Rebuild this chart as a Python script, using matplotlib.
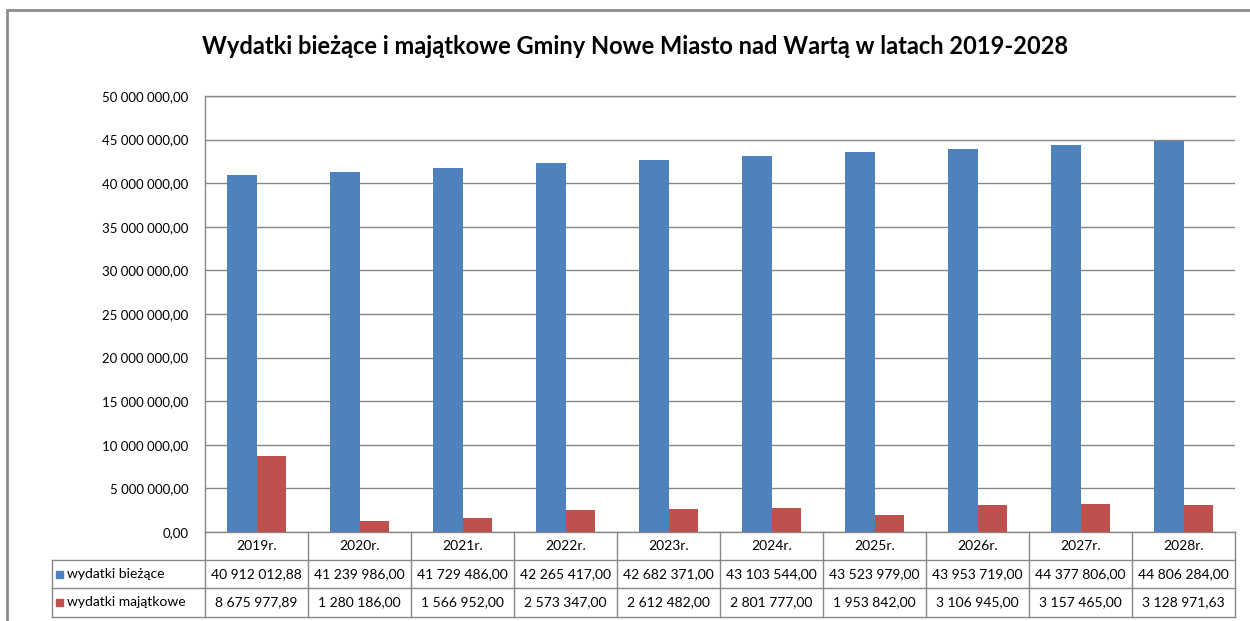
import matplotlib.pyplot as plt
import matplotlib.transforms as mtransforms
from matplotlib.patches import Rectangle
from matplotlib.lines import Line2D
import numpy as np

years = ['2019r.', '2020r.', '2021r.', '2022r.', '2023r.', '2024r.', '2025r.', '2026r.', '2027r.', '2028r.']
biezace = [40912012.88, 41239986.00, 41729486.00, 42265417.00, 42682371.00,
           43103544.00, 43523979.00, 43953719.00, 44377806.00, 44806284.00]
majatkowe = [8675977.89, 1280186.00, 1566952.00, 2573347.00, 2612482.00,
             2801777.00, 1953842.00, 3106945.00, 3157465.00, 3128971.63]
series_names = ['wydatki bieżące', 'wydatki majątkowe']
title = 'Wydatki bieżące i majątkowe Gminy Nowe Miasto nad Wartą w latach 2019-2028'

plt.rcParams['font.family'] = ['Lato', 'DejaVu Sans']

BLUE = '#4F81BD'
RED = '#C0504D'
GRID = '#878787'
W, H = 1250, 621


def pl(v):
    # polish number format: 40 912 012,88
    s = f'{v:,.2f}'
    return s.replace(',', ' ').replace('.', ',')


def fx(px):
    return px / W


def fy(py):
    return 1 - py / H


fig = plt.figure(figsize=(12.5, 6.21), dpi=100)
ax = fig.add_axes([fx(205), fy(532), fx(1235) - fx(205), fy(96) - fy(532)])

x = np.arange(len(years))
bw = 0.29
ax.bar(x - bw / 2, biezace, bw, color=BLUE, zorder=3)
ax.bar(x + bw / 2, majatkowe, bw, color=RED, zorder=3)

ax.set_xlim(-0.5, len(years) - 0.5)
ax.set_ylim(0, 50000000)
ax.set_yticks(np.arange(0, 50000001, 5000000))
ax.set_yticklabels([pl(v) for v in np.arange(0, 50000001, 5000000)], fontsize=9.5)
ax.yaxis.grid(True, color=GRID, linewidth=1)
ax.tick_params(axis='y', length=0, pad=12)
ax.set_xticks([])
ax.spines['right'].set_visible(False)
for s in ['left', 'top', 'bottom']:
    ax.spines[s].set_color(GRID)
    ax.spines[s].set_linewidth(1)

fig.text(fx(635), fy(47), title, ha='center', va='center', fontsize=17, fontweight='bold')

# data table under the axis
trans = mtransforms.blended_transform_factory(ax.transData, fig.transFigure)
y_rows = [fy(532), fy(560), fy(588), fy(617)]
col_edges = np.arange(len(years) + 1) - 0.5
for e in col_edges:
    fig.add_artist(Line2D([e, e], [y_rows[0], y_rows[3]], transform=trans, color=GRID, lw=1))
for yy in y_rows[1:]:
    fig.add_artist(Line2D([fx(52), fx(1235)], [yy, yy], transform=fig.transFigure, color=GRID, lw=1))
fig.add_artist(Line2D([fx(52), fx(52)], [y_rows[1], y_rows[3]], transform=fig.transFigure, color=GRID, lw=1))

fs = 10
for i, yr in enumerate(years):
    fig.text(i, (y_rows[0] + y_rows[1]) / 2, yr, transform=trans, ha='center', va='center', fontsize=fs)
    fig.text(i, (y_rows[1] + y_rows[2]) / 2, pl(biezace[i]), transform=trans,
             ha='center', va='center', fontsize=fs)
    fig.text(i, (y_rows[2] + y_rows[3]) / 2, pl(majatkowe[i]), transform=trans,
             ha='center', va='center', fontsize=fs)

for k, (name, c) in enumerate(zip(series_names, [BLUE, RED])):
    ymid = (y_rows[k + 1] + y_rows[k + 2]) / 2
    fig.add_artist(Rectangle((fx(56), ymid - 3.5 / H), 7 / W, 7 / H,
                             transform=fig.transFigure, color=c))
    fig.text(fx(67), ymid, name, ha='left', va='center', fontsize=fs)

# outer chart frame
fig.add_artist(Rectangle((fx(7), -0.1), 1.2, fy(10) + 0.1, transform=fig.transFigure,
                         fill=False, edgecolor='#8c8c8c', lw=2))

fig.savefig('out.png', dpi=100)
